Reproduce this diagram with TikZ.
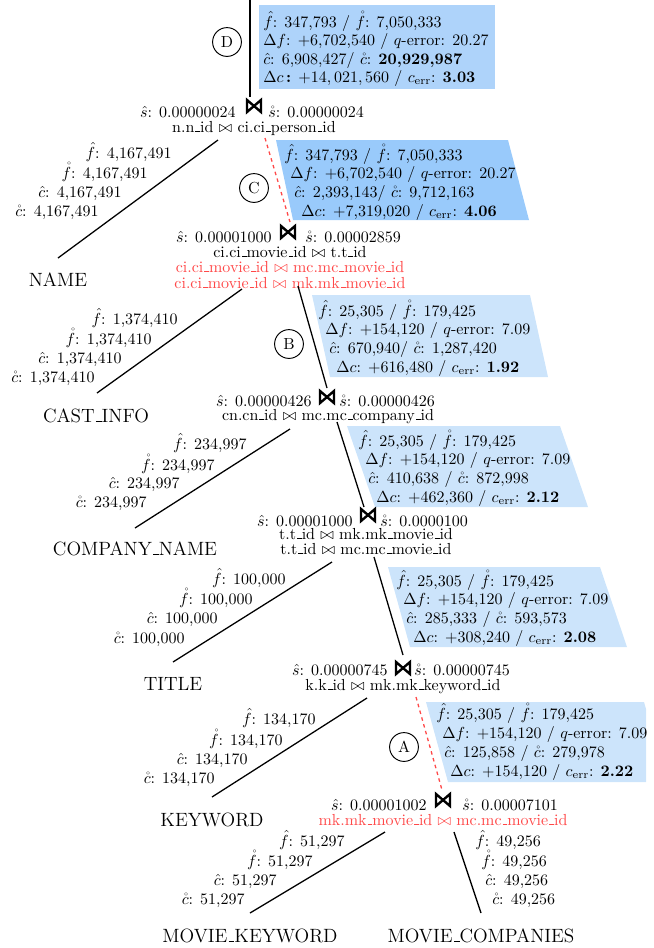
\documentclass[tikz,border=0pt]{standalone}
\usepackage{amsmath,amssymb}
\definecolor{boxD}{HTML}{AED3FA}
\definecolor{boxC}{HTML}{99CAFB}
\definecolor{boxL}{HTML}{CCE4FB}
\definecolor{hl}{HTML}{FF4848}
% short low rule used for identifiers such as n.n_id
\newcommand{\us}{\leavevmode\kern.06em\vbox{\hrule width.3em}}
\newcommand{\myfh}{$\hat{f}$}
\newcommand{\myfr}{$\mathring{f}$}
\newcommand{\mych}{$\hat{c}$}
\newcommand{\mycr}{$\mathring{c}$}
\newcommand{\mysh}{$\hat{s}$}
\newcommand{\mysr}{$\mathring{s}$}
\newcommand{\mydf}{$\Delta f$}
\newcommand{\mydc}{$\Delta c$}
\newcommand{\myq}{$q$-error}
\newcommand{\myce}{$c_{\mathrm{err}}$}
\newcommand{\jn}{$\bowtie$}
\begin{document}
\begin{tikzpicture}[x=0.625pt,y=-0.625pt,
  txt/.style={inner sep=0pt,font=\normalsize},
  leaf/.style={inner sep=0pt,font=\large},
  edge/.style={line width=0.8pt},
  redge/.style={line width=0.8pt,hl,dash pattern=on 2.2pt off 2.2pt},
  tag/.style={draw,circle,line width=0.6pt,minimum size=18pt,inner sep=0pt,font=\normalsize},
  joinmark/.style={line width=1.5pt,line join=miter}]
\useasboundingbox (0,0) rectangle (654,948);

% ---- statistic boxes
\fill[boxD] (259,5) rectangle (495,89);
\fill[boxC] (276,140) -- (508,140) -- (529,220) -- (293,220) -- cycle;
\fill[boxL] (312,295) -- (530,295) -- (548,377) -- (330,377) -- cycle;
\fill[boxL] (347,426) -- (560,426) -- (588,507) -- (375,507) -- cycle;
\fill[boxL] (388,567) -- (600,567) -- (627,647) -- (410,647) -- cycle;
\fill[boxL] (426,702) -- (644,702) -- (646,709) -- (646,782) -- (448,782) -- cycle;

% box D
\node[txt,anchor=base west] (d1) at (263,27) {\myfh: 347,793 / \myfr: 7,050,333};
\node[txt,anchor=base west] (d2) at (263,45) {\mydf: +6,702,540 / \myq: 20.27};
\node[txt,anchor=base west] (d3) at (263,64) {\mych: 6,908,427/ \mycr: \textbf{20,929,987}};
\node[txt,anchor=base west] (d4) at (263,82) {\mydc\,\textbf{:} $+14,021,560$ / \myce: \textbf{3.03}};
% box C
\node[txt,anchor=base west] (c1) at (284,160) {\myfh: 347,793 / \myfr: 7,050,333};
\node[txt,anchor=base west] (c2) at (290,178) {\mydf: +6,702,540 / \myq: 20.27};
\node[txt,anchor=base west] (c3) at (294,197) {\mych: 2,393,143/ \mycr: 9,712,163};
\node[txt,anchor=base west] (c4) at (301,216) {\mydc: +7,319,020 / \myce: \textbf{4.06}};
% box B
\node[txt,anchor=base west] (b1) at (318,316) {\myfh: 25,305 / \myfr: 179,425};
\node[txt,anchor=base west] (b2) at (325,334) {\mydf: +154,120 / \myq: 7.09};
\node[txt,anchor=base west] (b3) at (329,353) {\mych: 670,940/ \mycr: 1,287,420};
\node[txt,anchor=base west] (b4) at (336,372) {\mydc: +616,480 / \myce: \textbf{1.92}};
% box below B
\node[txt,anchor=base west] (e1) at (358,446) {\myfh: 25,305 / \myfr: 179,425};
\node[txt,anchor=base west] (e2) at (365,464) {\mydf: +154,120 / \myq: 7.09};
\node[txt,anchor=base west] (e3) at (368,483) {\mych: 410,638 / \mycr: 872,998};
\node[txt,anchor=base west] (e4) at (376,502) {\mydc: +462,360 / \myce: \textbf{2.12}};
% box above the keyword join
\node[txt,anchor=base west] (g1) at (396,586) {\myfh: 25,305 / \myfr: 179,425};
\node[txt,anchor=base west] (g2) at (403,604) {\mydf: +154,120 / \myq: 7.09};
\node[txt,anchor=base west] (g3) at (406,623) {\mych: 285,333 / \mycr: 593,573};
\node[txt,anchor=base west] (g4) at (413,642) {\mydc: +308,240 / \myce: \textbf{2.08}};
% box A
\node[txt,anchor=base west] (a1) at (436,719) {\myfh: 25,305 / \myfr: 179,425};
\node[txt,anchor=base west] (a2) at (442,738) {\mydf: +154,120 / \myq: 7.09};
\node[txt,anchor=base west] (a3) at (444,757) {\mych: 125,858 / \mycr: 279,978};
\node[txt,anchor=base west] (a4) at (450,776) {\mydc: +154,120 / \myce: \textbf{2.22}};

% ---- join operators
\coordinate (jD) at (254,106);
\coordinate (jC) at (288,232);
\coordinate (jB) at (327,397);
\coordinate (jT) at (368,515);
\coordinate (jK) at (403,668);
\coordinate (jA) at (443,800);
\foreach \j in {jD,jC,jB,jT,jK,jA}
  \draw[joinmark,shift={(\j)}] (-7,-6) -- (-7,6) -- (7,-6) -- (7,6) -- cycle;

% join D labels
\node[txt,anchor=base east] (jDl) at (236,117) {\mysh: 0.00000024};
\node[txt,anchor=base west] (jDr) at (268,117) {\mysr: 0.00000024};
\node[txt,anchor=base] (jDc) at (254,132) {n.n\us id \jn{} ci.ci\us person\us id};
% join C labels
\node[txt,anchor=base east] (jCl) at (272,242) {\mysh: 0.00001000};
\node[txt,anchor=base west] (jCr) at (305,242) {\mysr: 0.00002859};
\node[txt,anchor=base] (jCc1) at (290,257) {ci.ci\us movie\us id \jn{} t.t\us id};
\node[txt,anchor=base,text=hl] (jCc2) at (290,272) {ci.ci\us movie\us id \jn{} mc.mc\us movie\us id};
\node[txt,anchor=base,text=hl] (jCc3) at (290,288) {ci.ci\us movie\us id \jn{} mk.mk\us movie\us id};
% join B labels
\node[txt,anchor=base east] (jBl) at (312,406) {\mysh: 0.00000426};
\node[txt,anchor=base west] (jBr) at (339,406) {\mysr: 0.00000426};
\node[txt,anchor=base] (jBc) at (328,420) {cn.cn\us id \jn{} mc.mc\us company\us id};
% join T labels
\node[txt,anchor=base east] (jTl) at (353,526) {\mysh: 0.00001000};
\node[txt,anchor=base west] (jTr) at (380,526) {\mysr: 0.0000100};
\node[txt,anchor=base] (jTc1) at (366,539) {t.t\us id \jn{} mk.mk\us movie\us id};
\node[txt,anchor=base] (jTc2) at (366,554) {t.t\us id \jn{} mc.mc\us movie\us id};
% join K labels
\node[txt,anchor=base east] (jKl) at (388,675) {\mysh: 0.00000745};
\node[txt,anchor=base west] (jKr) at (414,675) {\mysr: 0.00000745};
\node[txt,anchor=base] (jKc) at (403,690) {k.k\us id \jn{} mk.mk\us keyword\us id};
% join A labels
\node[txt,anchor=base east] (jAl) at (427,810) {\mysh: 0.00001002};
\node[txt,anchor=base west] (jAr) at (462,810) {\mysr: 0.00007101};
\node[txt,anchor=base,text=hl] (jAc) at (443,825) {mk.mk\us movie\us id \jn{} mc.mc\us movie\us id};

% ---- tables
\node[leaf,anchor=base] (tN)  at (58,286)  {NAME};
\node[leaf,anchor=base] (tCI) at (96,422)  {CAST\us INFO};
\node[leaf,anchor=base] (tCN) at (135,555) {COMPANY\us NAME};
\node[leaf,anchor=base] (tT)  at (173,690) {TITLE};
\node[leaf,anchor=base] (tK)  at (212,826) {KEYWORD};
\node[leaf,anchor=base] (tMK) at (250,942) {MOVIE\us KEYWORD};
\node[leaf,anchor=base] (tMC) at (481,942) {MOVIE\us COMPANIES};

% table statistics
\node[txt,anchor=base east] (sN1) at (172,158) {\myfh: 4,167,491};
\node[txt,anchor=base east] (sN2) at (148,178) {\myfr: 4,167,491};
\node[txt,anchor=base east] (sN3) at (122,197) {\mych: 4,167,491};
\node[txt,anchor=base east] (sN4) at (99,216)  {\mycr: 4,167,491};

\node[txt,anchor=base east] (sCI1) at (178,324) {\myfh: 1,374,410};
\node[txt,anchor=base east] (sCI2) at (152,344) {\myfr: 1,374,410};
\node[txt,anchor=base east] (sCI3) at (122,363) {\mych: 1,374,410};
\node[txt,anchor=base east] (sCI4) at (95,382)  {\mycr: 1,374,410};

\node[txt,anchor=base east] (sCN1) at (247,449) {\myfh: 234,997};
\node[txt,anchor=base east] (sCN2) at (215,470) {\myfr: 234,997};
\node[txt,anchor=base east] (sCN3) at (180,488) {\mych: 234,997};
\node[txt,anchor=base east] (sCN4) at (147,507) {\mycr: 234,997};

\node[txt,anchor=base east] (sT1) at (286,584) {\myfh: 100,000};
\node[txt,anchor=base east] (sT2) at (253,604) {\myfr: 100,000};
\node[txt,anchor=base east] (sT3) at (218,623) {\mych: 100,000};
\node[txt,anchor=base east] (sT4) at (185,643) {\mycr: 100,000};

\node[txt,anchor=base east] (sK1) at (316,724) {\myfh: 134,170};
\node[txt,anchor=base east] (sK2) at (283,745) {\myfr: 134,170};
\node[txt,anchor=base east] (sK3) at (248,764) {\mych: 134,170};
\node[txt,anchor=base east] (sK4) at (215,783) {\mycr: 134,170};

\node[txt,anchor=base east] (sMK1) at (345,846) {\myfh: 51,297};
\node[txt,anchor=base east] (sMK2) at (313,866) {\myfr: 51,297};
\node[txt,anchor=base east] (sMK3) at (277,885) {\mych: 51,297};
\node[txt,anchor=base east] (sMK4) at (245,904) {\mycr: 51,297};

\node[txt,anchor=base west] (sMC1) at (475,846) {\myfh: 49,256};
\node[txt,anchor=base west] (sMC2) at (481,866) {\myfr: 49,256};
\node[txt,anchor=base west] (sMC3) at (485,885) {\mych: 49,256};
\node[txt,anchor=base west] (sMC4) at (492,904) {\mycr: 49,256};

% ---- step markers
\node[tag] (mD) at (227,42)  {D};
\node[tag] (mC) at (254,188) {C};
\node[tag] (mB) at (289,344) {B};
\node[tag] (mA) at (404,747) {A};

% ---- edge end points
\coordinate (top)  at (250,0);
\coordinate (pD0)  at (250,97);
\coordinate (pD1)  at (218,140);
\coordinate (pN)   at (58,258);
\coordinate (pD2)  at (265,138);
\coordinate (pC0)  at (290,222);
\coordinate (pC1)  at (242,289);
\coordinate (pCI)  at (97,393);
\coordinate (pC2)  at (298,286);
\coordinate (pB0)  at (327,388);
\coordinate (pB1)  at (290,429);
\coordinate (pCN)  at (135,528);
\coordinate (pB2)  at (337,422);
\coordinate (pT0)  at (364,507);
\coordinate (pT1)  at (332,562);
\coordinate (pT)   at (173,662);
\coordinate (pT2)  at (374,557);
\coordinate (pK0)  at (403,655);
\coordinate (pK1)  at (367,698);
\coordinate (pK)   at (212,797);
\coordinate (pK2)  at (416,697);
\coordinate (pA0)  at (442,790);
\coordinate (pA1)  at (385,832);
\coordinate (pMK)  at (250,913);
\coordinate (pA2)  at (454,832);
\coordinate (pMC)  at (481,913);

% ---- edges
\draw[edge]  (top) -- (pD0);
\draw[edge]  (pD1) -- (pN);
\draw[redge] (pD2) -- (pC0);
\draw[edge]  (pC1) -- (pCI);
\draw[edge]  (pC2) -- (pB0);
\draw[edge]  (pB1) -- (pCN);
\draw[edge]  (pB2) -- (pT0);
\draw[edge]  (pT1) -- (pT);
\draw[edge]  (pT2) -- (pK0);
\draw[edge]  (pK1) -- (pK);
\draw[redge] (pK2) -- (pA0);
\draw[edge]  (pA1) -- (pMK);
\draw[edge]  (pA2) -- (pMC);
\end{tikzpicture}
\end{document}
